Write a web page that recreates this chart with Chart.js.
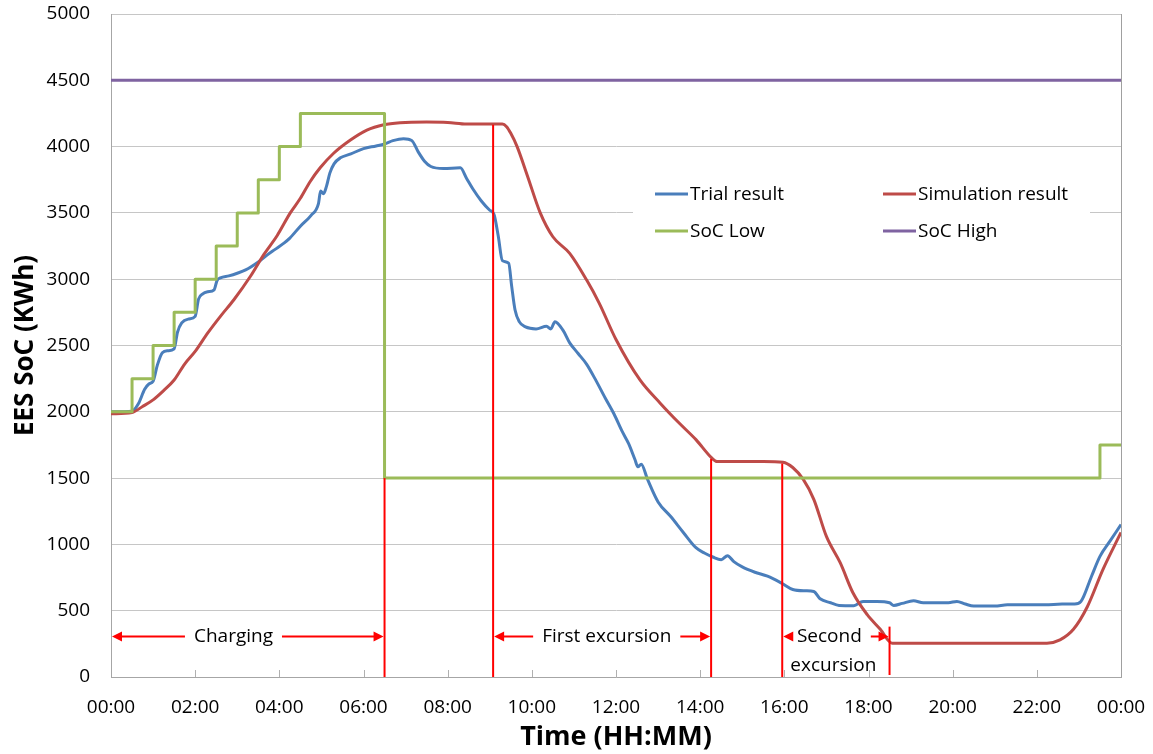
<!DOCTYPE html>
<html><head><meta charset="utf-8">
<script src="https://cdn.jsdelivr.net/npm/chart.js@4"></script>
<style>html,body{margin:0;padding:0;background:#fff;} canvas{display:block;}</style>
</head><body>
<canvas id="c" width="1153" height="754" style="width:1153px;height:754px"></canvas>
<script>
// ---- data (time in hours since 00:00, values in kWh) ----
const trialTimes = [0,0.5,0.65,0.8,0.9,1.0,1.1,1.22,1.35,1.5,1.58,1.68,1.85,2.0,2.08,2.18,2.3,2.45,2.52,2.6,2.8,3.0,3.2,3.5,3.7,3.9,4.1,4.25,4.5,4.75,4.93,4.98,5.05,5.12,5.2,5.3,5.45,5.7,6.0,6.3,6.5,6.7,6.95,7.15,7.3,7.45,7.6,7.9,8.3,8.45,8.6,8.8,9.0,9.1,9.2,9.3,9.45,9.52,9.6,9.7,9.85,10.1,10.35,10.45,10.55,10.75,10.9,11.1,11.3,11.5,11.75,11.95,12.15,12.3,12.45,12.52,12.6,12.75,13.0,13.3,13.6,13.9,14.1,14.3,14.5,14.65,14.8,15.0,15.3,15.6,15.95,16.2,16.5,16.7,16.85,17.1,17.3,17.65,17.87,18.2,18.5,18.6,18.8,19.07,19.3,19.6,19.9,20.1,20.3,20.5,21.0,21.3,21.8,22.2,22.6,22.9,23.05,23.3,23.5,23.75,24];
const trialValues = [2000,2005,2060,2170,2210,2230,2350,2445,2460,2475,2600,2670,2700,2720,2850,2890,2905,2920,2990,3010,3025,3045,3070,3130,3180,3225,3270,3310,3400,3480,3570,3665,3645,3700,3800,3870,3915,3945,3985,4005,4020,4045,4060,4045,3960,3890,3850,3835,3840,3760,3680,3590,3520,3490,3330,3140,3120,2950,2770,2680,2640,2625,2645,2625,2680,2610,2520,2440,2360,2250,2100,1985,1850,1760,1640,1585,1605,1490,1320,1210,1090,975,935,905,885,915,870,830,790,760,705,660,650,645,590,560,540,538,570,570,560,540,555,575,560,560,560,570,550,535,535,545,545,545,550,550,570,760,910,1030,1150];

const simTimes = [0,0.5,0.75,1.0,1.25,1.5,1.75,2.0,2.3,2.6,2.92,3.31,3.63,3.95,4.26,4.5,4.73,4.97,5.29,5.69,6.08,6.48,6.87,7.5,8.0,8.45,9.3,9.4,9.5,9.65,9.9,10.2,10.5,10.9,11.3,11.6,12.0,12.57,13.05,13.5,13.9,14.28,14.4,15.5,15.97,16.2,16.45,16.7,17.0,17.33,17.63,17.97,18.28,18.56,22.24,22.55,22.87,23.2,23.57,24];
const simValues = [1985,1995,2040,2090,2160,2240,2360,2455,2595,2720,2845,3020,3185,3330,3500,3610,3735,3840,3950,4050,4125,4165,4180,4185,4182,4170,4170,4150,4100,4000,3775,3500,3320,3195,2995,2820,2545,2240,2065,1915,1790,1650,1625,1625,1620,1580,1490,1340,1060,860,635,470,360,255,255,280,360,530,810,1090];

const socLowTimes = [0,0.5,1.0,1.5,2.0,2.5,3.0,3.5,4.0,4.5,6.5,23.5,24];
const socLowValues = [2000,2250,2500,2750,3000,3250,3500,3750,4000,4250,1500,1750,1750];

const socHighTimes = [0,24];
const socHighValues = [4500,4500];

const seriesNames = ['Trial result','Simulation result','SoC Low','SoC High'];
const xTickHours = [0,2,4,6,8,10,12,14,16,18,20,22,24];

// annotation data
const markerTimes   = [6.5, 9.08, 14.26, 15.95, 18.5];
const markerTops    = [1500, 4165, 1645, 1610, 380];
const markerBottoms = [0, 0, 0, 0, 15];
const spanStarts = [0, 9.08, 15.95];
const spanEnds   = [6.5, 14.26, 18.5];
const spanLevel  = 305;
const spanLabels = [['Charging'], ['First excursion'], ['Second', 'excursion']];
const spanLabelTimes = [2.91, 11.78, 17.07];

const FONT = "'Open Sans', 'Noto Sans', sans-serif";
const pts = (xs, ys) => xs.map((x, i) => ({x, y: ys[i]}));
const fmt = v => String(Math.round(v) % 24).padStart(2, '0') + ':00';

const annotPlugin = {
  id: 'annot',
  beforeDatasetsDraw(chart) {
    const c = chart.ctx;
    c.save();
    c.fillStyle = '#ffffff';
    c.fillRect(633, 168, 457, 88);
    c.restore();
    const xs = chart.scales.x, ys = chart.scales.y;
    c.save();
    c.strokeStyle = '#b0b0b0'; c.lineWidth = 1;
    xTickHours.forEach(h => {
      if (h === 0 || h === 24) return;
      const px = Math.round(xs.getPixelForValue(h)) + 0.5;
      const py = ys.getPixelForValue(0);
      c.beginPath(); c.moveTo(px, py); c.lineTo(px, py - 7); c.stroke();
    });
    c.restore();
  },
  afterDatasetsDraw(chart) {
    const c = chart.ctx;
    const xs = chart.scales.x, ys = chart.scales.y;
    c.save();
    c.strokeStyle = '#ff0000'; c.fillStyle = '#ff0000'; c.lineWidth = 2;
    markerTimes.forEach((t, i) => {
      const px = xs.getPixelForValue(t);
      c.beginPath();
      c.moveTo(px, ys.getPixelForValue(markerBottoms[i]));
      c.lineTo(px, ys.getPixelForValue(markerTops[i]));
      c.stroke();
    });
    const head = (x, y, dir) => {
      c.beginPath();
      c.moveTo(x, y);
      c.lineTo(x - dir * 10, y - 5);
      c.lineTo(x - dir * 10, y + 5);
      c.closePath(); c.fill();
    };
    c.font = "19px " + FONT;
    c.textAlign = 'center'; c.textBaseline = 'middle';
    spanStarts.forEach((s, i) => {
      const x1 = xs.getPixelForValue(s) + 1, x2 = xs.getPixelForValue(spanEnds[i]) - 1;
      const y = ys.getPixelForValue(spanLevel);
      const cx = xs.getPixelForValue(spanLabelTimes[i]);
      const w = c.measureText(spanLabels[i][0]).width;
      const gap = 9;
      c.beginPath();
      c.moveTo(x1 + 6, y); c.lineTo(cx - w / 2 - gap, y);
      c.moveTo(cx + w / 2 + gap, y); c.lineTo(x2 - 6, y);
      c.stroke();
      head(x1, y, -1); head(x2, y, 1);
      c.fillStyle = '#000';
      spanLabels[i].forEach((line, k) => {
        const lx = k === 0 ? cx : cx + 4;
        c.fillText(line, lx, y + k * 29);
      });
      c.fillStyle = '#ff0000';
    });
    c.restore();
    c.save();
    c.font = "19px " + FONT;
    c.textAlign = 'left'; c.textBaseline = 'middle';
    const colX = [655, 883], rowY = [194, 231];
    chart.data.datasets.forEach((ds, i) => {
      const x = colX[i % 2], y = rowY[Math.floor(i / 2)];
      c.strokeStyle = ds.borderColor; c.lineWidth = 3;
      c.beginPath(); c.moveTo(x, y); c.lineTo(x + 33, y); c.stroke();
      c.fillStyle = '#000';
      c.fillText(ds.label, x + 35, y + 1);
    });
    c.restore();
  }
};

new Chart(document.getElementById('c'), {
  type: 'line',
  data: {
    datasets: [
      {label: seriesNames[0], data: pts(trialTimes, trialValues), borderColor: '#4a7ebb', order: 4, cubicInterpolationMode: 'monotone'},
      {label: seriesNames[1], data: pts(simTimes, simValues), borderColor: '#be4b48', order: 3, cubicInterpolationMode: 'monotone'},
      {label: seriesNames[2], data: pts(socLowTimes, socLowValues), borderColor: '#9bbb59', stepped: 'before', order: 2},
      {label: seriesNames[3], data: pts(socHighTimes, socHighValues), borderColor: '#7f63a1', order: 1}
    ]
  },
  options: {
    responsive: false,
    animation: false,
    layout: {padding: {left: 0, right: 32, top: 14, bottom: 0}},
    elements: {
      point: {radius: 0, hoverRadius: 0},
      line: {borderWidth: 3, tension: 0, fill: false, borderCapStyle: 'butt', borderJoinStyle: 'round'}
    },
    scales: {
      x: {
        type: 'linear', min: 0, max: 24,
        afterBuildTicks: s => { s.ticks = xTickHours.map(v => ({value: v})); },
        ticks: {callback: v => fmt(v), font: {family: FONT, size: 19}, color: '#000', padding: 19, maxRotation: 0, autoSkip: false},
        grid: {drawTicks: false, color: ctx => (ctx.tick && ctx.tick.value === 24) ? '#a0a0a0' : 'rgba(0,0,0,0)', lineWidth: 1},
        border: {display: true, color: '#a6a6a6', width: 1},
        title: {display: true, text: 'Time (HH:MM)', font: {family: FONT, size: 27, weight: 'bold'}, color: '#000', padding: {top: 0, bottom: 0}},
        afterFit: s => { s.height = 77; s.paddingLeft = 0; s.paddingRight = 0; }
      },
      y: {
        min: 0, max: 5000,
        ticks: {stepSize: 500, callback: v => String(v), font: {family: FONT, size: 19}, color: '#000', padding: 21},
        grid: {drawTicks: false, color: '#c6c6c6', lineWidth: 1},
        border: {display: true, color: '#a6a6a6', width: 1},
        title: {display: true, text: 'EES SoC (KWh)', font: {family: FONT, size: 26, weight: 'bold'}, color: '#000', padding: {top: 10, bottom: 0}},
        afterFit: s => { s.width = 111; s.paddingTop = 0; s.paddingBottom = 0; }
      }
    },
    plugins: {legend: {display: false}, tooltip: {enabled: false}}
  },
  plugins: [annotPlugin]
});
</script>
</body></html>
